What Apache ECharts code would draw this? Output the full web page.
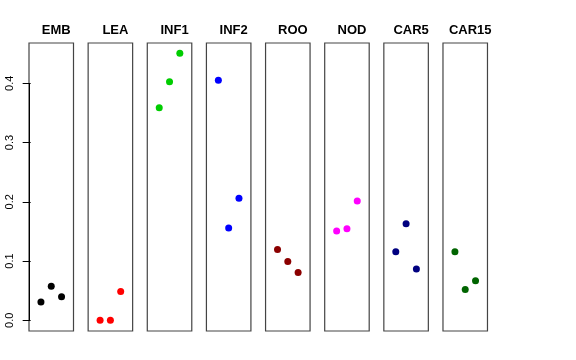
<!DOCTYPE html>
<html>
<head>
<meta charset="utf-8">
<script src="https://cdn.jsdelivr.net/npm/echarts@6/dist/echarts.min.js"></script>
<style>html,body{margin:0;padding:0;background:#fff}#c{width:576px;height:360px}</style>
</head>
<body>
<div id="c"></div>
<script>
const categories = ['EMB','LEA','INF1','INF2','ROO','NOD','CAR5','CAR15'];
const colors = ['#000000','#FF0000','#00CD00','#0000FF','#8B0000','#FF00FF','#000080','#006400'];
const positions = [1, 2, 3];
const EMB = [0.031, 0.0575, 0.040];
const LEA = [0.0, 0.0, 0.0486];
const INF1 = [0.3587, 0.4027, 0.4506];
const INF2 = [0.405, 0.156, 0.206];
const ROO = [0.1196, 0.0993, 0.0807];
const NOD = [0.1506, 0.1545, 0.2014];
const CAR5 = [0.1156, 0.163, 0.0868];
const CAR15 = [0.1156, 0.052, 0.067];
const values = [EMB, LEA, INF1, INF2, ROO, NOD, CAR5, CAR15];
const yTicks = [0, 0.1, 0.2, 0.3, 0.4];

const chart = echarts.init(document.getElementById('c'));
const gLeft0 = 29, gStep = 59.14, gW = 44.5, gTop = 43, gH = 288;
const grids = [], xAxes = [], yAxes = [], series = [], titles = [];
categories.forEach((cat, i) => {
  const l = gLeft0 + i * gStep;
  grids.push({left: l, top: gTop, width: gW, height: gH, show: true, borderColor: '#444', borderWidth: 1.2, backgroundColor: 'transparent'});
  xAxes.push({gridIndex: i, type: 'value', min: -0.16, max: 4.16, show: false});
  yAxes.push({
    gridIndex: i, type: 'value', min: -0.018, max: 0.468, show: i === 0,
    splitLine: {show: false},
    axisLine: {show: false},
    axisTick: {show: i === 0, length: 8, lineStyle: {color: '#000'}, customValues: yTicks},
    axisLabel: {show: i === 0, rotate: 90, margin: 14, fontSize: 11, color: '#000', fontFamily: 'Liberation Sans, Arial, sans-serif',
      customValues: yTicks, formatter: v => v.toFixed(1)}
  });
  titles.push({text: cat, left: l + gW / 2, top: 19, textAlign: 'center',
    textStyle: {fontSize: 13, fontWeight: 'bold', color: '#000', fontFamily: 'Liberation Sans, Arial, sans-serif'}});
  const s = {
    type: 'scatter', xAxisIndex: i, yAxisIndex: i, symbolSize: 7,
    itemStyle: {color: colors[i], opacity: 1},
    data: positions.map((p, k) => [p, values[i][k]]),
    silent: true, animation: false
  };
  if (i === 0) {
    s.markLine = {silent: true, symbol: 'none', animation: false, label: {show: false},
      lineStyle: {color: '#000', width: 1, type: 'solid'},
      data: [[{coord: [-0.16, yTicks[0]]}, {coord: [-0.16, yTicks[yTicks.length - 1]]}]]};
  }
  series.push(s);
});
chart.setOption({animation: false, title: titles, grid: grids, xAxis: xAxes, yAxis: yAxes, series: series});
</script>
</body>
</html>
